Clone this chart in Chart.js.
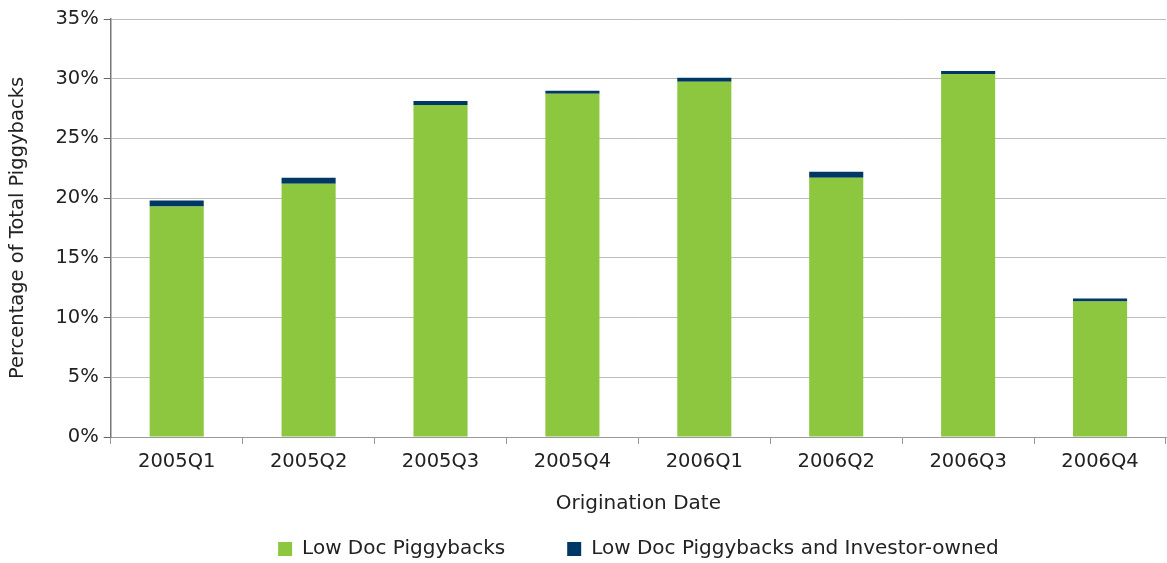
<!DOCTYPE html>
<html>
<head>
<meta charset="utf-8">
<script src="https://cdn.jsdelivr.net/npm/chart.js@4/dist/chart.umd.min.js"></script>
<style>
  html, body { margin: 0; padding: 0; background: #fff; }
  #wrap { width: 1167px; height: 563px; }
</style>
</head>
<body>
<div id="wrap"><canvas id="piggy"></canvas></div>
<script>
var quarters = ["2005Q1", "2005Q2", "2005Q3", "2005Q4", "2006Q1", "2006Q2", "2006Q3", "2006Q4"];
var lowDoc = [19.3, 21.2, 27.8, 28.75, 29.75, 21.7, 30.4, 11.35];
var lowDocInvestor = [0.5, 0.5, 0.33, 0.25, 0.33, 0.5, 0.25, 0.25];

Chart.defaults.font.family = "'DejaVu Sans', Verdana, sans-serif";
Chart.defaults.color = "#222";

new Chart("piggy", {
  type: "bar",
  data: {
    labels: quarters,
    datasets: [{
      label: "Low Doc Piggybacks",
      backgroundColor: "#8dc63f",
      data: lowDoc,
      barPercentage: 0.82,
      categoryPercentage: 0.5
    }, {
      label: "Low Doc Piggybacks and Investor-owned",
      backgroundColor: "#003865",
      data: lowDocInvestor,
      barPercentage: 0.82,
      categoryPercentage: 0.5
    }]
  },
  options: {
    responsive: true,
    maintainAspectRatio: false,
    animation: false,
    layout: { padding: { top: 19, right: 1, left: 4, bottom: -6 } },
    plugins: {
      tooltip: { enabled: false },
      legend: {
        position: "bottom",
        fullSize: false,
        labels: { boxWidth: 14, boxHeight: 14, padding: 62, font: { size: 20 } }
      }
    },
    scales: {
      x: {
        stacked: true,
        offset: true,
        grid: { offset: true, drawOnChartArea: false, tickLength: 7, tickColor: "#999", color: "#999" },
        border: { color: "#999", width: 1 },
        ticks: { font: { size: 19.5 }, padding: 6 },
        title: { display: true, text: "Origination Date", font: { size: 20 }, padding: { top: 12.6, bottom: -39 } }
      },
      y: {
        stacked: true,
        min: 0,
        max: 35,
        grid: { color: "#bdbdbd", tickLength: 7, tickColor: "#666" },
        border: { color: "#777", width: 1.5 },
        ticks: { stepSize: 5, font: { size: 19.5 }, padding: 5, callback: function (v) { return v + "%"; } },
        title: { display: true, text: "Percentage of Total Piggybacks", font: { size: 19.5 }, padding: { top: 2, bottom: 21 } }
      }
    }
  }
});
</script>
</body>
</html>
